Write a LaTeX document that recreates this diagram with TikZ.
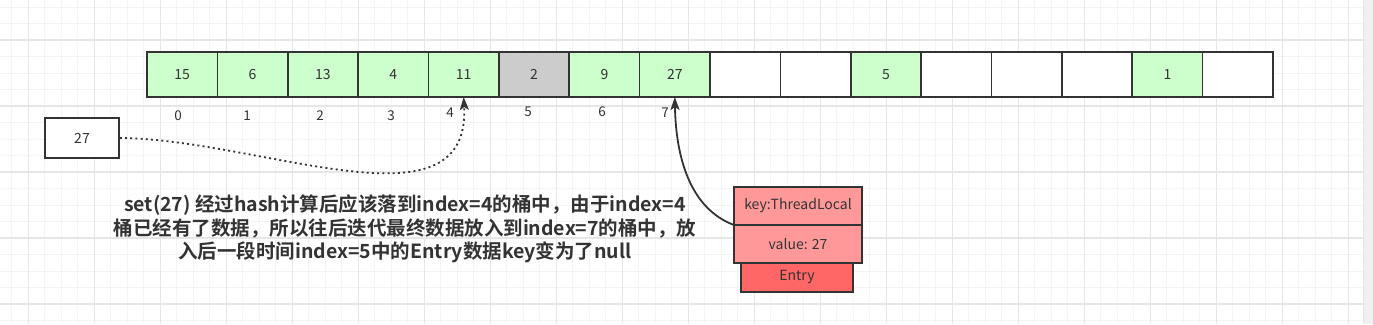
\documentclass[tikz,border=0pt]{standalone}
\usepackage{fontspec}
\setmainfont{Noto Sans CJK SC}[BoldFont={Noto Sans CJK SC Bold}]
\usetikzlibrary{arrows.meta}
\definecolor{minorgrid}{HTML}{F4F4F4}
\definecolor{majorgrid}{HTML}{E6E6E6}
\definecolor{strokec}{HTML}{333333}
\definecolor{greenc}{HTML}{CCFFCC}
\definecolor{grayc}{HTML}{CCCCCC}
\definecolor{lightred}{HTML}{FF9999}
\definecolor{darkred}{HTML}{FF6666}
\definecolor{txt}{HTML}{333333}
\definecolor{scrollc}{HTML}{F0F0F0}
\tikzset{
  cell/.style={draw=strokec, line width=1.6pt, minimum width=70.375pt, minimum height=45pt,
    inner sep=0pt, outer sep=0pt, anchor=north west, font=\fontsize{14}{16}\selectfont, text=txt},
  idx/.style={font=\fontsize{13.5}{15}\selectfont, text=txt, inner sep=0pt},
  entrybox/.style={draw=strokec, line width=1.6pt, inner sep=0pt, outer sep=0pt, anchor=north west,
    font=\fontsize{14}{16}\selectfont, text=txt},
  link/.style={draw=strokec, line width=1.8pt, -{Stealth[length=13pt,width=9pt,inset=3pt]}},
}
\begin{document}
\begin{tikzpicture}[x=1pt,y=-1pt]
\useasboundingbox (0,0) rectangle (1373,324);
\fill[white] (0,0) rectangle (1373,324);
\begin{scope}
\clip (0,0) rectangle (1363,324);
\foreach \xx in {11.8,28.3,...,1370} \draw[minorgrid, line width=1pt] (\xx,0) -- (\xx,324);
\foreach \yy in {7,23.5,...,330} \draw[minorgrid, line width=1pt] (0,\yy) -- (1363,\yy);
\foreach \xx in {28.3,94.3,...,1370} \draw[majorgrid, line width=1.2pt] (\xx,0) -- (\xx,324);
\foreach \yy in {40,106,...,330} \draw[majorgrid, line width=1.2pt] (0,\yy) -- (1363,\yy);
\end{scope}
\fill[scrollc] (1363,0) rectangle (1373,324);
\draw[majorgrid, line width=0.8pt] (1363,0) -- (1363,324);

% array
\foreach \i/\v/\f in {0/15/greenc,1/6/greenc,2/13/greenc,3/4/greenc,4/11/greenc,5/2/grayc,6/9/greenc,7/27/greenc,
  8//white,9//white,10/5/greenc,11//white,12//white,13//white,14/1/greenc,15//white}
  \node[cell, fill=\f] (c\i) at ({147+70.375*\i},52) {\v};

% index labels
\node[idx] (l0) at (178,116) {0};
\node[idx] (l1) at (247,116) {1};
\node[idx] (l2) at (320,116) {2};
\node[idx] (l3) at (391,116) {3};
\node[idx] (l4) at (450,113) {4};
\node[idx] (l5) at (528,112) {5};
\node[idx] (l6) at (602,112) {6};
\node[idx] (l7) at (665,113) {7};

% new element box
\node[draw=strokec, line width=1.6pt, fill=white, minimum width=74pt, minimum height=40pt, inner sep=0pt,
  font=\fontsize{14}{16}\selectfont, text=txt] (newbox) at (82,138) {27};

% entry
\node[entrybox, fill=darkred, minimum width=112pt, minimum height=29pt] (entry) at (741,263) {Entry};
\node[entrybox, fill=lightred, minimum width=128pt, minimum height=38pt] (key) at (734,187) {key:ThreadLocal};
\node[entrybox, fill=lightred, minimum width=128pt, minimum height=38pt] (val) at (734,225) {value: 27};

% connectors
\draw[link, dash pattern=on 2pt off 3.2pt] (newbox.east) .. controls +(141,1) and +(7,138) .. (c4.south);
\draw[link] (val.north west) .. controls +(-43,-16) and +(1,62) .. (c7.south);

% description
\node[align=center, text=txt, font=\bfseries\fontsize{19.5}{23.5}\selectfont, inner sep=0pt] (desc) at (405,229)
  {set(27) 经过hash计算后应该落到index=4的桶中，由于index=4\\
   桶已经有了数据，所以往后迭代最终数据放入到index=7的桶中，放\\
   入后一段时间index=5中的Entry数据key变为了null};
\end{tikzpicture}
\end{document}
